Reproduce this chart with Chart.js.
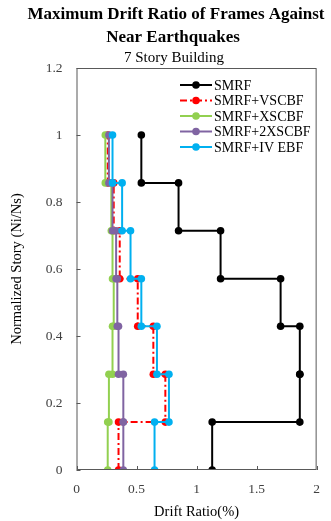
<!DOCTYPE html>
<html>
<head>
<meta charset="utf-8">
<script src="https://cdn.jsdelivr.net/npm/chart.js@4.4.0/dist/chart.umd.min.js"></script>
<style>
    html, body { margin: 0; padding: 0; background: #fff; }
    #wrap { width: 331px; height: 521px; }
</style>
</head>
<body>
<div id="wrap"><canvas id="driftChart"></canvas></div>
<script>
// normalized story levels (Ni/Ns), floor 0 up to roof
var storyLevels = [0, 0.143, 0.286, 0.429, 0.571, 0.714, 0.857, 1];

var seriesNames = ['SMRF', 'SMRF+VSCBF', 'SMRF+XSCBF', 'SMRF+2XSCBF', 'SMRF+IV EBF'];

// max drift ratio (%) per story, story 1 first
var driftSMRF   = [1.13, 1.86, 1.86, 1.70, 1.20, 0.85, 0.54];
var driftVSCBF  = [0.35, 0.74, 0.64, 0.51, 0.36, 0.31, 0.26];
var driftXSCBF  = [0.26, 0.27, 0.30, 0.31, 0.30, 0.29, 0.24];
var drift2XSCBF = [0.39, 0.39, 0.35, 0.34, 0.33, 0.30, 0.27];
var driftIVEBF  = [0.65, 0.77, 0.67, 0.54, 0.45, 0.38, 0.30];

var xTicks = [0, 0.5, 1, 1.5, 2];
var yTicks = [0, 0.2, 0.4, 0.6, 0.8, 1, 1.2];

var titleLines = ['Maximum Drift Ratio of Frames Against', 'Near Earthquakes'];
var subTitle = '7 Story Building';

var serif = "'Liberation Serif', 'Times New Roman', serif";

// each story drift is held over the full story height -> step profile
function stepPoints(drifts) {
    var pts = [];
    for (var i = 0; i < drifts.length; i++) {
        pts.push({ x: drifts[i], y: storyLevels[i] });
        pts.push({ x: drifts[i], y: storyLevels[i + 1] });
    }
    return pts;
}

var styles = [
    { color: '#000000', dash: [] },
    { color: '#ff0000', dash: [7, 3, 2, 3] },
    { color: '#92d050', dash: [] },
    { color: '#8064a2', dash: [] },
    { color: '#00b0f0', dash: [] }
];
var allDrifts = [driftSMRF, driftVSCBF, driftXSCBF, drift2XSCBF, driftIVEBF];

var datasets = allDrifts.map(function (d, i) {
    return {
        label: seriesNames[i],
        data: stepPoints(d),
        borderColor: styles[i].color,
        backgroundColor: styles[i].color,
        borderDash: styles[i].dash,
        borderWidth: 2,
        pointRadius: 3.8,
        pointBorderWidth: 0,
        pointBackgroundColor: styles[i].color,
        showLine: true,
        fill: false,
        tension: 0,
        order: allDrifts.length - i
    };
});

// titles, frame, inner tick marks and the legend block
var decorations = {
    id: 'decorations',
    afterDraw: function (chart) {
        var ctx = chart.ctx;
        var a = chart.chartArea;
        var xs = chart.scales.x, ys = chart.scales.y;
        ctx.save();

        ctx.fillStyle = '#000';
        ctx.textAlign = 'center';
        ctx.textBaseline = 'middle';
        ctx.font = 'bold 17px ' + serif;
        ctx.fillText(titleLines[0], 176, 15);
        ctx.fillText(titleLines[1], 173, 38);
        ctx.font = '15px ' + serif;
        ctx.fillText(subTitle, 174, 58);

        ctx.strokeStyle = '#595959';
        ctx.lineWidth = 1;
        ctx.strokeRect(a.left + 0.5, a.top + 0.5, a.right - a.left - 1, a.bottom - a.top - 1);

        ctx.beginPath();
        xTicks.forEach(function (v) {
            var px = Math.round(xs.getPixelForValue(v)) + 0.5;
            ctx.moveTo(px, a.bottom);
            ctx.lineTo(px, a.bottom - 4);
        });
        yTicks.forEach(function (v) {
            var py = Math.round(ys.getPixelForValue(v)) + 0.5;
            ctx.moveTo(a.left, py);
            ctx.lineTo(a.left + 4, py);
        });
        ctx.stroke();

        var lx = 180, rowY = 85, rowGap = 15.5;
        ctx.font = '14px ' + serif;
        ctx.textAlign = 'left';
        chart.data.datasets.forEach(function (ds, i) {
            var y = rowY + i * rowGap;
            ctx.strokeStyle = ds.borderColor;
            ctx.lineWidth = 2;
            ctx.setLineDash(ds.borderDash);
            ctx.beginPath();
            ctx.moveTo(lx, y);
            ctx.lineTo(lx + 32, y);
            ctx.stroke();
            ctx.setLineDash([]);
            ctx.fillStyle = ds.pointBackgroundColor;
            ctx.beginPath();
            ctx.arc(lx + 16, y, 3.8, 0, Math.PI * 2);
            ctx.fill();
            ctx.fillStyle = '#000';
            ctx.fillText(ds.label, lx + 34, y + 1);
        });
        ctx.restore();
    }
};

function plainLabel(v) { return String(v); }

var ctx = document.getElementById('driftChart').getContext('2d');
var driftChart = new Chart(ctx, {
    type: 'scatter',
    data: { datasets: datasets },
    options: {
        responsive: true,
        maintainAspectRatio: false,
        animation: false,
        layout: { padding: { top: 68, right: 5, left: 0, bottom: 0 } },
        plugins: {
            legend: { display: false },
            tooltip: { enabled: false }
        },
        scales: {
            x: {
                type: 'linear',
                min: 0,
                max: 2,
                afterBuildTicks: function (s) { s.ticks = xTicks.map(function (v) { return { value: v }; }); },
                afterFit: function (s) { s.height = 51; },
                grid: { display: false, drawTicks: false },
                border: { display: false },
                ticks: { color: '#404040', padding: 11, font: { family: serif, size: 13.5 }, callback: plainLabel },
                title: {
                    display: true,
                    text: 'Drift Ratio(%)',
                    color: '#000',
                    font: { family: serif, size: 14.5 },
                    padding: { top: 0, bottom: 0 }
                }
            },
            y: {
                type: 'linear',
                min: 0,
                max: 1.2,
                afterBuildTicks: function (s) { s.ticks = yTicks.map(function (v) { return { value: v }; }); },
                afterFit: function (s) { s.width = 76.5; },
                grid: { display: false, drawTicks: false },
                border: { display: false },
                ticks: { color: '#404040', padding: 14, font: { family: serif, size: 13.5 }, callback: plainLabel },
                title: {
                    display: true,
                    text: 'Normalized Story (Ni/Ns)',
                    color: '#000',
                    font: { family: serif, size: 14.5 },
                    padding: { top: 8, bottom: 0 }
                }
            }
        }
    },
    plugins: [decorations]
});
</script>
</body>
</html>
